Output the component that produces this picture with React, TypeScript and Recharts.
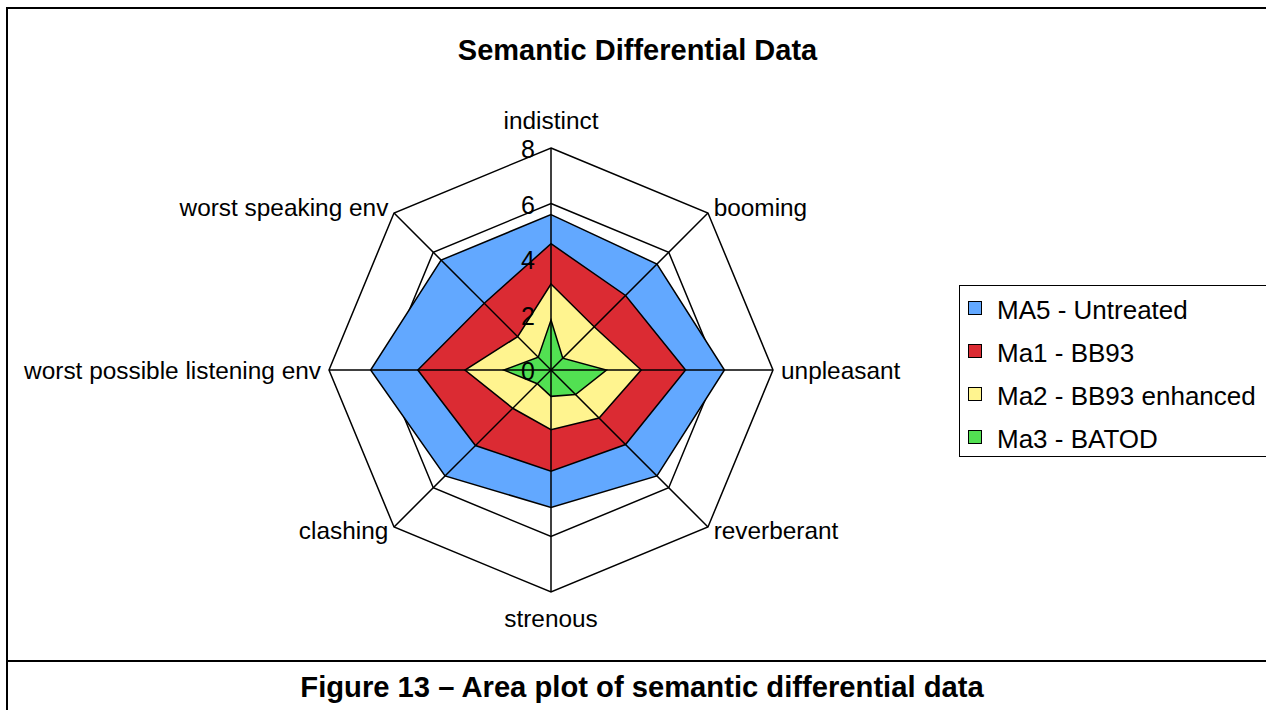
import React from 'react';
import { RadarChart, Radar, PolarGrid, PolarAngleAxis, PolarRadiusAxis, Legend } from 'recharts';

// axis categories, clockwise from the top
const categories = [
  'indistinct',
  'booming',
  'unpleasant',
  'reverberant',
  'strenous',
  'clashing',
  'worst possible listening env',
  'worst speaking env',
];

const ma5Untreated = [5.6, 5.4, 6.25, 5.4, 4.95, 5.4, 6.5, 5.6];
const ma1BB93 = [4.55, 3.8, 4.85, 3.8, 3.65, 3.85, 4.8, 3.4];
const ma2BB93Enhanced = [3.1, 2.2, 3.25, 2.45, 2.15, 1.95, 3.1, 1.7];
const ma3BATOD = [1.8, 0.6, 2.0, 1.25, 0.95, 0.7, 1.7, 0.65];

const radiusTicks = [0, 2, 4, 6, 8];

const seriesKeys = ['ma5', 'ma1', 'ma2', 'ma3'];
const seriesNames = ['MA5 - Untreated', 'Ma1 - BB93', 'Ma2 - BB93 enhanced', 'Ma3 - BATOD'];
const seriesColors = ['#62A8FF', '#DB2B33', '#FFF48F', '#52E052'];

const data = categories.map((category, i) => ({
  category,
  ma5: ma5Untreated[i],
  ma1: ma1BB93[i],
  ma2: ma2BB93Enhanced[i],
  ma3: ma3BATOD[i],
}));

const FONT = '"Liberation Sans", Arial, Helvetica, sans-serif';
const CX = 551;
const CY = 370;
const R = 222;
const RAD = Math.PI / 180;

// tick label plus the spoke for that category (drawn above the filled areas)
const AngleTick = (props: any) => {
  const { x, y, payload, textAnchor, cx, cy, radius } = props;
  const a = -payload.coordinate * RAD;
  const ex = cx + radius * Math.cos(a);
  const ey = cy + radius * Math.sin(a);
  let dy = 0;
  if (textAnchor === 'middle') dy = y < cy ? -20 : 18;
  else if (y > cy + 5) dy = -2;
  return (
    <g>
      <line x1={cx} y1={cy} x2={ex} y2={ey} stroke="#000" strokeWidth={1.5} />
      <text
        x={x}
        y={y + dy}
        textAnchor={textAnchor}
        dominantBaseline="central"
        fontSize={24.4}
        fontFamily={FONT}
        fill="#000"
      >
        {payload.value}
      </text>
    </g>
  );
};

const RadiusTick = (props: any) => {
  const { x, y, payload } = props;
  return (
    <text
      x={x - 16}
      y={y + 1}
      textAnchor="end"
      dominantBaseline="central"
      fontSize={25}
      fontFamily={FONT}
      fill="#000"
    >
      {payload.value}
    </text>
  );
};

const renderLegend = () => (
  <div
    style={{
      border: '1.5px solid #000',
      boxSizing: 'border-box',
      width: 340,
      height: 172,
      paddingTop: 3,
      background: '#fff',
      fontFamily: FONT,
    }}
  >
    {seriesNames.map((name, i) => (
      <div key={name} style={{ display: 'flex', alignItems: 'center', height: 43 }}>
        <span
          style={{
            display: 'inline-block',
            width: 12,
            height: 12,
            marginLeft: 8,
            marginRight: 15,
            marginTop: -6,
            border: '1.5px solid #000',
            background: seriesColors[i],
          }}
        />
        <span style={{ fontSize: 26, color: '#000', whiteSpace: 'nowrap' }}>{name}</span>
      </div>
    ))}
  </div>
);

export default function App() {
  return (
    <div style={{ position: 'absolute', left: 0, top: 0, width: 1266, height: 710, overflow: 'hidden', background: '#fff' }}>
      {/* outer frame */}
      <div
        style={{
          position: 'absolute',
          left: 6,
          top: 7,
          width: 1300,
          height: 651,
          border: '2px solid #000',
          boxSizing: 'content-box',
        }}
      />
      <div style={{ position: 'absolute', left: 6, top: 660, width: 2, height: 60, background: '#000' }} />

      <div
        style={{
          position: 'absolute',
          left: 0,
          top: 33,
          width: 1275,
          textAlign: 'center',
          fontFamily: FONT,
          fontWeight: 'bold',
          fontSize: 29,
          lineHeight: '34px',
        }}
      >
        Semantic Differential Data
      </div>

      <div style={{ position: 'absolute', left: 0, top: 0 }}>
        <RadarChart
          width={1266}
          height={710}
          data={data}
          cx={CX}
          cy={CY}
          outerRadius={R}
          margin={{ top: 0, right: 0, bottom: 0, left: 0 }}
        >
          <PolarGrid gridType="polygon" radialLines={false} stroke="#000" strokeWidth={1.5} strokeOpacity={1} />
          {seriesKeys.map((key, i) => (
            <Radar
              key={key}
              name={seriesNames[i]}
              dataKey={key}
              stroke="#000"
              strokeWidth={1.5}
              fill={seriesColors[i]}
              fillOpacity={1}
              dot={false}
              isAnimationActive={false}
            />
          ))}
          <PolarAngleAxis dataKey="category" tick={<AngleTick />} tickLine={false} axisLine={false} />
          <PolarRadiusAxis
            angle={90}
            domain={[0, 8]}
            ticks={radiusTicks as any}
            tickCount={5}
            tick={<RadiusTick />}
            axisLine={false}
            tickLine={false}
          />
          <Legend
            layout="vertical"
            align="right"
            verticalAlign="middle"
            content={renderLegend}
            wrapperStyle={{ position: 'absolute', left: 959, top: 285, width: 340 }}
          />
        </RadarChart>
      </div>

      <div
        style={{
          position: 'absolute',
          left: 0,
          top: 670,
          width: 1284,
          textAlign: 'center',
          fontFamily: FONT,
          fontWeight: 'bold',
          fontSize: 29.2,
          lineHeight: '34px',
        }}
      >
        Figure 13 – Area plot of semantic differential data
      </div>
    </div>
  );
}
